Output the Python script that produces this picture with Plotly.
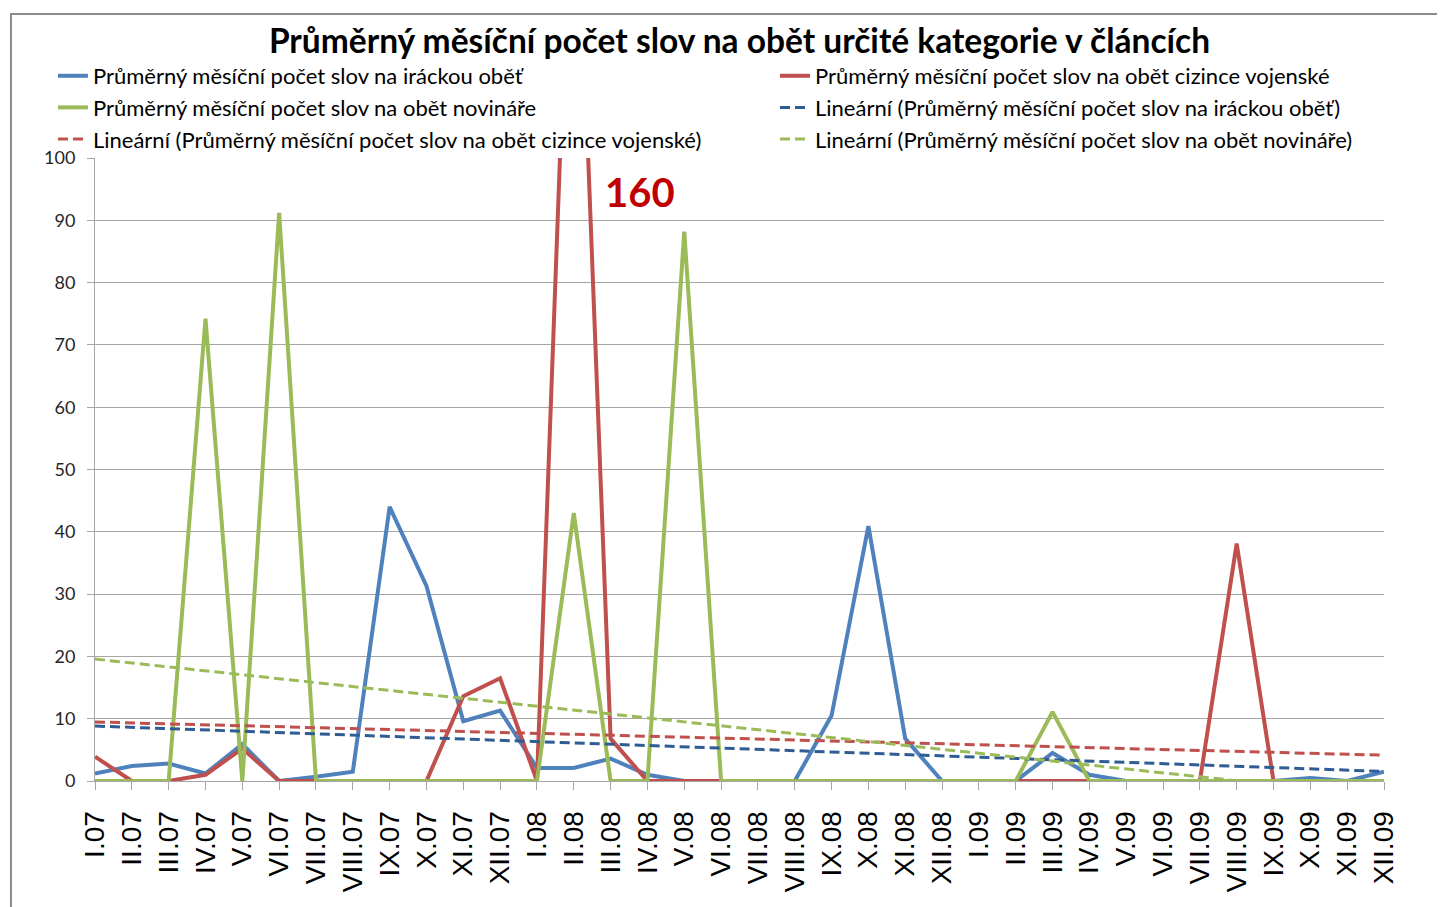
import numpy as np
import plotly.graph_objects as go

# categories (months 2007-2009)
mesice = ["I.07", "II.07", "III.07", "IV.07", "V.07", "VI.07", "VII.07", "VIII.07", "IX.07", "X.07", "XI.07", "XII.07",
          "I.08", "II.08", "III.08", "IV.08", "V.08", "VI.08", "VII.08", "VIII.08", "IX.08", "X.08", "XI.08", "XII.08",
          "I.09", "II.09", "III.09", "IV.09", "V.09", "VI.09", "VII.09", "VIII.09", "IX.09", "X.09", "XI.09", "XII.09"]

# series values
iracka = [1.2, 2.4, 2.8, 1.2, 5.9, 0, 0.7, 1.5, 44, 31.3, 9.6, 11.3,
          2.1, 2.1, 3.6, 1.0, 0, 0, 0, 0, 10.5, 40.9, 6.8, 0,
          0, 0, 4.5, 1.0, 0, 0, 0, 0, 0, 0.5, 0, 1.5]
cizinci = [3.9, 0, 0, 1.0, 5.2, 0, 0, 0, 0, 0, 13.6, 16.5,
           0, 160, 6.8, 0, 0, 0, 0, 0, 0, 0, 0, 0,
           0, 0, 0, 0, 0, 0, 0, 38.1, 0, 0, 0, 0]
novinari = [0, 0, 0, 74.2, 0, 91.2, 0, 0, 0, 0, 0, 0,
            0, 43, 0, 0, 88.2, 0, 0, 0, 0, 0, 0, 0,
            0, 0, 11.1, 0, 0, 0, 0, 0, 0, 0, 0, 0]

nazvy = ["Průměrný měsíční počet slov na iráckou oběť",
         "Průměrný měsíční počet slov na obět cizince vojenské",
         "Průměrný měsíční počet slov na obět novináře"]
barvy = ["#4F81BD", "#C0504D", "#9BBB59"]
barvy_trend = ["#2E5C93", "#C0504D", "#9BBB59"]
# which of the two legend columns each entry goes to (row by row, left to right)
sloupec_serie = ["legend", "legend2", "legend"]
sloupec_trend = ["legend2", "legend", "legend2"]

fig = go.Figure()

# the series
for vals, name, col, lg in zip([iracka, cizinci, novinari], nazvy, barvy, sloupec_serie):
    fig.add_trace(go.Scatter(x=mesice, y=vals, mode="lines", name=name, legend=lg,
                             line=dict(color=col, width=4)))

# linear trend lines (least squares, like Excel)
idx = np.arange(len(mesice))
for vals, name, col, lg in zip([iracka, cizinci, novinari], nazvy, barvy_trend, sloupec_trend):
    k, q = np.polyfit(idx, vals, 1)
    fig.add_trace(go.Scatter(x=mesice, y=k * idx + q, mode="lines", legend=lg,
                             name="Lineární (" + name + ")",
                             line=dict(color=col, width=3, dash="10px,5px")))

fig.add_annotation(x=14.8, y=94.5, xref="x", yref="y", text="<b>160</b>",
                   showarrow=False, font=dict(family="Lato", size=40, color="#C00000"))

# outer frame of the chart
fig.add_shape(type="rect", xref="paper", yref="paper",
              x0=-0.0652, x1=1.1, y0=-0.3, y1=1.2311,
              line=dict(color="#8C8C8C", width=2), fillcolor="rgba(0,0,0,0)", layer="below")

leg = dict(orientation="v", xref="container", yref="container", xanchor="left",
           y=0.9482, yanchor="top", font=dict(family="Lato", size=22, color="black"),
           bgcolor="rgba(0,0,0,0)", traceorder="normal", tracegroupgap=0)

fig.update_layout(
    width=1445, height=907,
    margin=dict(l=87, r=69, t=150, b=134, autoexpand=False),
    paper_bgcolor="white", plot_bgcolor="white",
    title=dict(text="<b>Průměrný měsíční počet slov na obět určité kategorie v článcích</b>",
               x=0.5, xref="paper", y=0.9636, yanchor="middle",
               font=dict(family="Lato", size=33.5, color="black")),
    legend=dict(leg, x=0.0311),
    legend2=dict(leg, x=0.5308),
    showlegend=True,
)

fig.update_xaxes(type="category", showgrid=False, showline=True, linecolor="#A6A6A6", linewidth=1,
                 ticks="outside", ticklen=8, tickcolor="#A6A6A6", tickangle=-90,
                 ticklabelstandoff=10, range=[0, len(mesice) - 1], automargin=False,
                 tickfont=dict(family="Liberation Sans", size=28, color="black"))
fig.update_yaxes(range=[0, 100], dtick=10, showgrid=True, gridcolor="#A6A6A6", gridwidth=1,
                 showline=True, linecolor="#A6A6A6", linewidth=1, zeroline=False, automargin=False,
                 ticks="outside", ticklen=7, tickcolor="#A6A6A6", ticklabelstandoff=8,
                 tickfont=dict(family="Lato", size=18, color="#262626"))

fig.write_html("out.html")
